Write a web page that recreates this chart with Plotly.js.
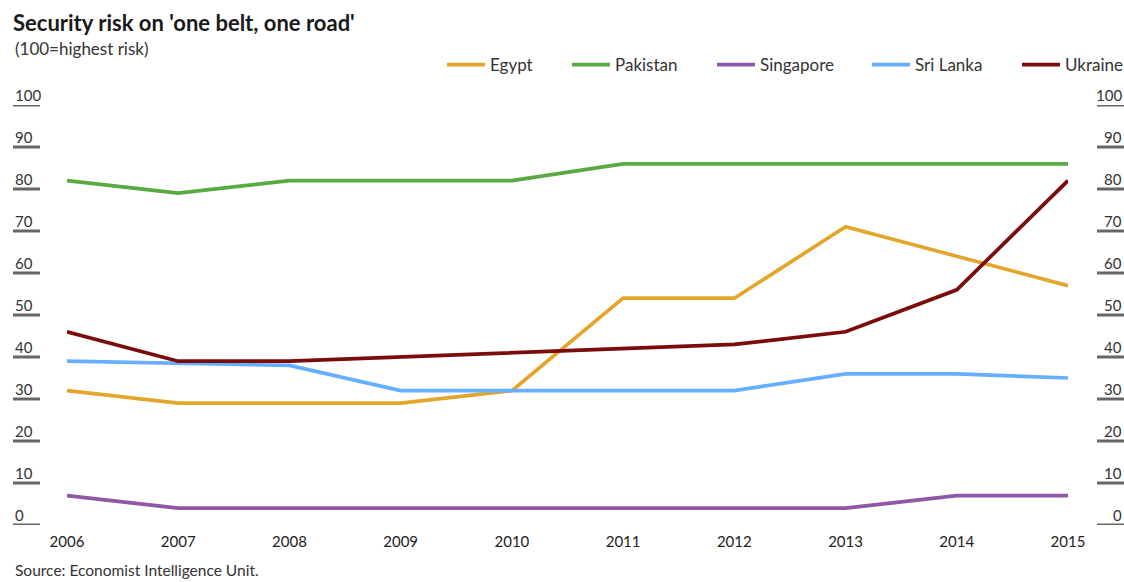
<!DOCTYPE html>
<html>
<head>
<meta charset="utf-8">
<script src="https://cdn.plot.ly/plotly-3.0.1.min.js"></script>
<style>html,body{margin:0;padding:0;background:#fff;}#chart{width:1124px;height:582px;}</style>
</head>
<body>
<div id="chart"></div>
<script>
const years = [2006, 2007, 2008, 2009, 2010, 2011, 2012, 2013, 2014, 2015];
const egypt = [32, 29, 29, 29, 32, 54, 54, 71, 64, 57];
const pakistan = [82, 79, 82, 82, 82, 86, 86, 86, 86, 86];
const singapore = [7, 4, 4, 4, 4, 4, 4, 4, 7, 7];
const sriLanka = [39, 38.5, 38, 32, 32, 32, 32, 36, 36, 35];
const ukraine = [46, 39, 39, 40, 41, 42, 43, 46, 56, 82];
const yTicks = [0, 10, 20, 30, 40, 50, 60, 70, 80, 90, 100];
const yTickText = yTicks.map(String);

const FONT = 'Lato, "Open Sans", sans-serif';
const W = 1111, H = 420;   // plot area (paper) size in px
const series = [
  {name: 'Egypt', y: egypt, color: '#e3a52b', lx: 450},
  {name: 'Pakistan', y: pakistan, color: '#5aa943', lx: 575},
  {name: 'Singapore', y: singapore, color: '#8e58a6', lx: 720},
  {name: 'Sri Lanka', y: sriLanka, color: '#66aeff', lx: 875},
  {name: 'Ukraine', y: ukraine, color: '#7b0c0c', lx: 1025}
];
const legendKey = i => (i === 0 ? 'legend' : 'legend' + (i + 1));
const traces = series.map((s, i) => ({
  type: 'scatter', mode: 'lines', x: years, y: s.y, name: s.name,
  line: {color: s.color, width: 3.7}, hoverinfo: 'skip',
  legend: legendKey(i)
}));

const shapes = [];
const annotations = [];
yTicks.forEach((v, i) => {
  shapes.push({type: 'line', xref: 'paper', yref: 'y', x0: 0, x1: 27 / W, y0: v, y1: v,
               line: {color: '#666', width: 3}});
  shapes.push({type: 'line', xref: 'paper', yref: 'y', x0: 1 - 27 / W, x1: 1, y0: v, y1: v,
               line: {color: '#666', width: 3}});
  annotations.push({text: yTickText[i], xref: 'paper', yref: 'y', x: 0, y: v, yshift: 10,
                    xanchor: 'left', yanchor: 'middle', showarrow: false,
                    font: {family: FONT, size: 15, color: '#333'}});
  annotations.push({text: yTickText[i], xref: 'paper', yref: 'y', x: 1, y: v, yshift: 10,
                    xanchor: 'right', yanchor: 'middle', showarrow: false,
                    font: {family: FONT, size: 15, color: '#333'}});
});
annotations.push({text: '(100=highest risk)', xref: 'paper', yref: 'paper', x: 0, y: 1 + 57 / H,
  xanchor: 'left', yanchor: 'middle', showarrow: false,
  font: {family: FONT, size: 17, color: '#333'}});
annotations.push({text: 'Source: Economist Intelligence Unit.', xref: 'paper', yref: 'paper',
  x: 0, y: -56 / H, xanchor: 'left', yanchor: 'bottom', showarrow: false,
  font: {family: FONT, size: 15.5, color: '#333'}});

const layout = {
  width: 1124, height: 582,
  margin: {l: 13, r: 0, t: 105, b: 57, autoexpand: false},
  paper_bgcolor: '#fff', plot_bgcolor: '#fff',
  font: {family: FONT, color: '#222'},
  title: {
    text: "<b>Security risk on 'one belt, one road'</b>",
    x: 13 / 1124, xref: 'container', xanchor: 'left',
    y: 1 - 23 / 582, yref: 'container', yanchor: 'middle',
    font: {family: FONT, size: 22, color: '#1a1a1a'}
  },
  showlegend: true,
  xaxis: {
    domain: [(67 - 13) / W, (1068 - 13) / W],
    range: [2006, 2015], tickvals: years, ticktext: years.map(String),
    showgrid: false, zeroline: false, showline: false, ticks: '',
    anchor: 'y', fixedrange: true, ticklabelstandoff: 6, automargin: false,
    tickfont: {family: FONT, size: 15, color: '#222'}
  },
  yaxis: {
    range: [0, 100], showticklabels: false, ticks: '', showgrid: false,
    zeroline: false, showline: false, fixedrange: true, automargin: false
  },
  shapes: shapes,
  annotations: annotations
};
series.forEach((s, i) => {
  layout[legendKey(i)] = {
    orientation: 'h', x: (s.lx - 13 - 8) / W, xanchor: 'left', y: 1 + 40 / H, yanchor: 'middle',
    itemwidth: 38, font: {family: FONT, size: 17, color: '#333'}, bgcolor: 'rgba(0,0,0,0)'
  };
});

Plotly.newPlot('chart', traces, layout, {displayModeBar: false, staticPlot: true});
</script>
</body>
</html>
